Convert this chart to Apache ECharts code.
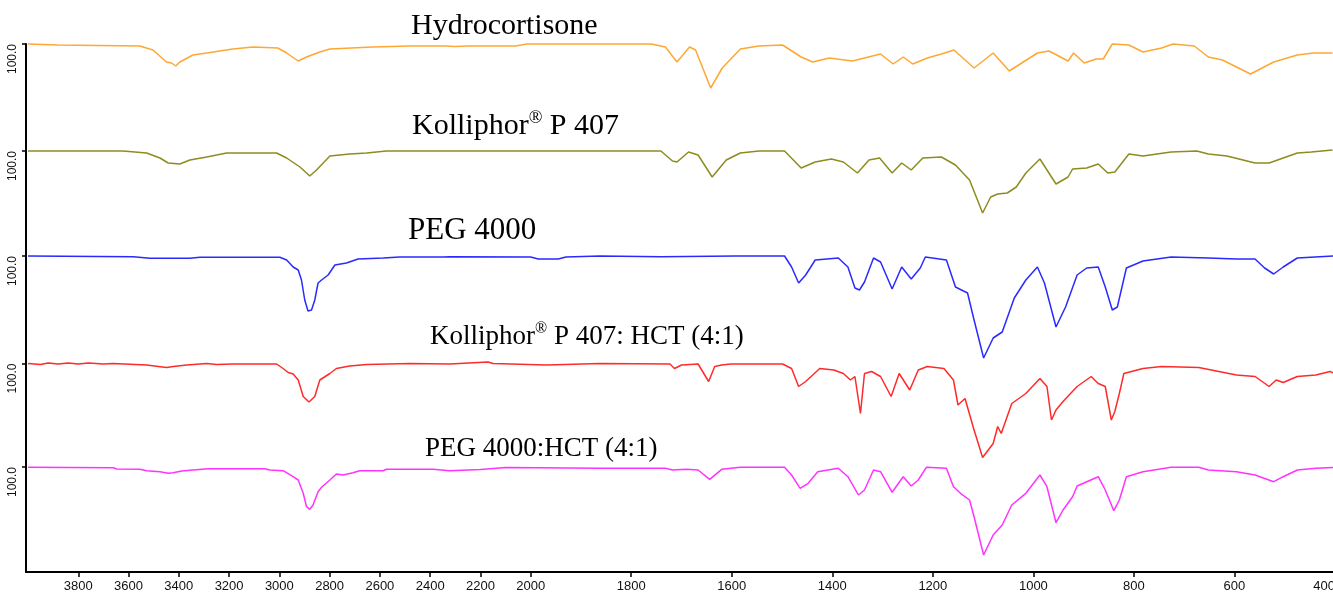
<!DOCTYPE html>
<html>
<head>
  <meta charset="utf-8">
  <script src="https://cdn.jsdelivr.net/npm/echarts@6.0.0/dist/echarts.min.js"></script>
  <style>
    html, body { margin: 0; padding: 0; background: #fff; }
    #chart { width: 1333px; height: 594px; }
  </style>
</head>
<body>
<div id="chart"></div>
<script>
// FTIR spectra, [wavenumber cm-1, %T] ; 100 = baseline of each trace
const hydrocortisone = [
  [4000,100],[3881,99],[3555,98],[3503,94],[3449,82],[3429,81],[3412,78],[3396,82],[3344,89],[3289,91],
  [3237,93],[3185,95],[3105,97],[3006,96],[2971,91],[2925,83],[2892,87],[2839,92],[2799,95],[2628,97],
  [2481,98],[2340,98],[2300,97.5],[2250,98],[2060,98],[2016,100],[1760,100],[1732,97],[1709,82],[1684,97],
  [1672,94],[1642,56],[1619,76],[1583,95],[1546,98],[1499,99],[1462,87],[1439,82],[1406,86],[1360,83],
  [1304,90],[1279,80],[1259,87],[1240,80],[1211,86],[1183,90],[1158,94],[1118,76],[1080,91],[1048,73],
  [992,91],[969,93],[931,83],[920,91],[899,81],[875,85],[861,85],[843,100],[810,99],[782,92],
  [745,96],[722,100],[680,98],[652,87],[624,84],[568,70],[522,82],[475,89],[443,91],[405,91]
];
const kolliphor = [
  [4000,100],[3622,100],[3528,98],[3475,93],[3442,88],[3396,87],[3356,91],[3289,94],[3210,98],[3185,98],
  [3011,98],[2971,93],[2918,84],[2879,75],[2852,81],[2799,95],[2720,97],[2653,98],[2574,100],[2322,100],
  [1863,100],[1741,100],[1718,90],[1709,89],[1686,99],[1667,96],[1639,74],[1611,91],[1583,98],[1546,100],
  [1495,100],[1462,83],[1434,89],[1402,92],[1378,89],[1350,78],[1327,91],[1306,93],[1281,78],[1262,88],
  [1243,81],[1220,93],[1183,94],[1155,86],[1127,71],[1101,38],[1085,54],[1071,57],[1052,58],[1034,64],
  [1015,78],[987,92],[955,67],[931,74],[922,82],[894,83],[871,87],[852,78],[838,79],[810,97],
  [782,95],[726,99],[675,100],[652,97],[615,95],[559,88],[531,88],[475,98],[447,99],[405,101]
];
const peg4000 = [
  [4000,100],[3581,99.3],[3515,97.7],[3356,97.7],[3316,98.7],[2998,98.7],[2971,96],[2945,89],[2925,86],[2912,76],
  [2899,56],[2886,45],[2872,46],[2859,56],[2846,73],[2832,76],[2806,81],[2779,91],[2733,93],[2687,97],
  [2587,98],[2521,99],[2349,99],[2322,99.3],[2000,99],[1985,97],[1945,97],[1930,99],[1863,100],[1741,99.3],
  [1592,100],[1495,100],[1481,89],[1467,73],[1453,81],[1434,96],[1388,98],[1369,89],[1355,68],[1346,66],
  [1336,74],[1318,98],[1304,94],[1281,67],[1262,89],[1243,77],[1225,88],[1215,99],[1173,96],[1155,69],
  [1131,63],[1118,36],[1099,-2],[1080,18],[1062,24],[1038,58],[1015,76],[992,89],[978,73],[955,29],
  [936,49],[913,81],[894,88],[871,89],[857,69],[843,46],[833,49],[815,88],[782,95],[726,99],
  [652,98],[596,97],[559,97],[540,88],[522,82],[503,89],[475,98],[403,100]
];
const kolliphorHct = [
  [4000,100],[3950,99],[3920,100.5],[3880,99.5],[3840,100.5],[3800,99.5],[3760,100.5],[3700,99.5],[3661,100],[3528,98.5],
  [3449,96],[3422,97],[3369,98.5],[3289,100],[3250,99],[3184,99.5],[3011,99.5],[2985,95],[2965,91],[2945,89.5],
  [2925,83.5],[2905,67],[2882,61.5],[2859,67],[2839,83.5],[2799,90],[2773,95],[2720,97.5],[2653,99],[2481,100],
  [2322,99.5],[2170,101.5],[2150,100],[1968,98.5],[1863,100],[1723,99.5],[1714,95],[1700,98.5],[1667,99.5],[1646,82],
  [1634,97],[1620,98.5],[1602,99.5],[1499,99.5],[1481,95],[1467,77],[1453,82],[1425,95],[1397,93.5],[1378,90],
  [1364,83.5],[1355,87],[1344,50],[1336,90],[1322,92],[1304,87],[1283,67],[1267,90],[1246,73.5],[1229,93.5],
  [1211,97],[1178,95],[1159,83.5],[1150,58.5],[1136,65],[1118,33.5],[1101,6],[1080,20],[1071,37],[1064,30],
  [1043,60],[1015,70],[987,85],[973,77],[964,43.5],[955,53.5],[941,62],[913,77],[885,87],[871,80],
  [857,77],[845,43.5],[838,52],[829,70],[820,90],[782,95],[745,97],[671,96],[596,88.5],[559,87],
  [531,77],[517,83.5],[503,81],[475,87],[438,88.5],[410,92],[400,90]
];
const pegHct = [
  [4000,99.7],[3661,99.3],[3647,98],[3555,97.7],[3528,96.3],[3475,95.3],[3442,93.7],[3422,94.3],[3389,96],[3343,97],
  [3283,98.3],[3058,98.3],[3038,97],[2985,96.3],[2945,90.3],[2925,87],[2905,73.7],[2892,60.3],[2879,57.7],[2866,62],
  [2846,75.3],[2832,79.7],[2799,87],[2773,93],[2746,92],[2707,94.3],[2680,96.3],[2587,96.3],[2574,97.7],[2388,97.7],
  [2322,96.3],[2200,97.5],[2100,99.5],[1863,98.7],[1732,98.7],[1718,97],[1690,97.7],[1667,97],[1644,87.7],[1620,97.7],
  [1583,99.7],[1495,99.7],[1481,92],[1464,78.7],[1448,83.7],[1429,95.3],[1388,98.7],[1369,90.3],[1348,72],[1336,77],
  [1318,97],[1304,95.3],[1281,74.7],[1259,90.3],[1243,81],[1229,87],[1213,99.7],[1173,98.7],[1159,80.3],[1145,73.7],
  [1127,67],[1118,50.3],[1099,12],[1080,32],[1062,42],[1043,62],[1015,73.7],[987,92],[973,80.3],[955,44.3],
  [941,57],[922,70.3],[913,81],[871,90.3],[857,77],[840,56.3],[829,67],[815,90.3],[782,95.3],[726,99.7],
  [671,99.7],[652,97],[596,95.3],[559,92],[522,85.3],[503,90.3],[475,97],[438,98.7],[400,99.7]
];

const xTicks = [3800, 3600, 3400, 3200, 3000, 2800, 2600, 2400, 2200, 2000, 1800, 1600, 1400, 1200, 1000, 800, 600, 400];
// vertical offset of each trace's 100 %T baseline
const offsets = [528, 421, 316, 208.5, 105];
const colors = ['#ffa733', '#8c8c1f', '#2a2aff', '#ff2a2a', '#ff33ff'];
const spectra = [hydrocortisone, kolliphor, peg4000, kolliphorHct, pegHct];

// x scale is halved above 2000 cm-1 (as in the instrument plot)
function toPos(wn) {
  return wn >= 2000 ? (4000 - wn) / 2 : 1000 + (2000 - wn);
}
function toWn(p) {
  return p <= 1000 ? 4000 - 2 * p : 2000 - (p - 1000);
}

let chartDom = document.getElementById('chart');
let myChart = echarts.init(chartDom);
let option;

const serif = 'Liberation Serif';
const titleRich = function (fs) {
  return {
    a: { fontFamily: serif, fontSize: fs, fontWeight: 'normal', lineHeight: fs + 4, color: '#000' },
    s: { fontFamily: serif, fontSize: Math.round(fs * 0.6), fontWeight: 'normal', lineHeight: fs + 4, verticalAlign: 'top', color: '#000' }
  };
};

option = {
  animation: false,
  title: [
    { text: '{a|Hydrocortisone}', left: 411, top: 9, padding: 0, textStyle: { fontWeight: 'normal', rich: titleRich(30) } },
    { text: '{a|Kolliphor}{s|®}{a| P 407}', left: 412, top: 109, padding: 0, textStyle: { fontWeight: 'normal', rich: titleRich(30) } },
    { text: '{a|PEG 4000}', left: 408, top: 213, padding: 0, textStyle: { fontWeight: 'normal', rich: titleRich(31) } },
    { text: '{a|Kolliphor}{s|®}{a| P 407: HCT (4:1)}', left: 430, top: 321, padding: 0, textStyle: { fontWeight: 'normal', rich: titleRich(27) } },
    { text: '{a|PEG 4000:HCT (4:1)}', left: 425, top: 433, padding: 0, textStyle: { fontWeight: 'normal', rich: titleRich(27) } }
  ],
  grid: {
    left: 26,
    right: -2,
    top: 44,
    bottom: 22,
    containLabel: false,
    outerBoundsMode: 'none'
  },
  xAxis: {
    type: 'value',
    min: -4,
    max: 2600,
    axisLine: { show: true, onZero: false, lineStyle: { color: '#000', width: 2 } },
    axisTick: { show: true, length: 5, customValues: xTicks.map(toPos), lineStyle: { color: '#000', width: 1.5 } },
    axisLabel: {
      customValues: xTicks.map(toPos),
      formatter: function (v) {
        let wn = Math.round(toWn(v));
        // last label sits at the canvas edge, pull it inside
        return wn === 400 ? wn + '\u00a0\u00a0\u00a0\u00a0\u00a0\u00a0' : String(wn);
      },
      fontFamily: 'Liberation Sans',
      fontSize: 13,
      color: '#111',
      margin: 8
    },
    splitLine: { show: false }
  },
  yAxis: {
    type: 'value',
    min: 0,
    max: 528,
    axisLine: { show: true, onZero: false, lineStyle: { color: '#000', width: 2 } },
    axisTick: { show: true, length: 4, customValues: offsets, lineStyle: { color: '#000', width: 1.5 } },
    axisLabel: {
      customValues: offsets,
      formatter: function () { return '100.0'; },
      rotate: 90,
      align: 'right',
      verticalAlign: 'middle',
      margin: 13,
      fontFamily: 'Liberation Sans',
      fontSize: 12,
      color: '#111'
    },
    splitLine: { show: false }
  },
  series: spectra.map(function (arr, i) {
    return {
      type: 'line',
      data: arr.map(function (d) { return [toPos(d[0]), offsets[i] + d[1] - 100]; }),
      showSymbol: false,
      symbol: 'none',
      clip: false,
      silent: true,
      lineStyle: { color: colors[i], width: 1.5 },
      itemStyle: { color: colors[i] }
    };
  })
};

option && myChart.setOption(option);
</script>
</body>
</html>
